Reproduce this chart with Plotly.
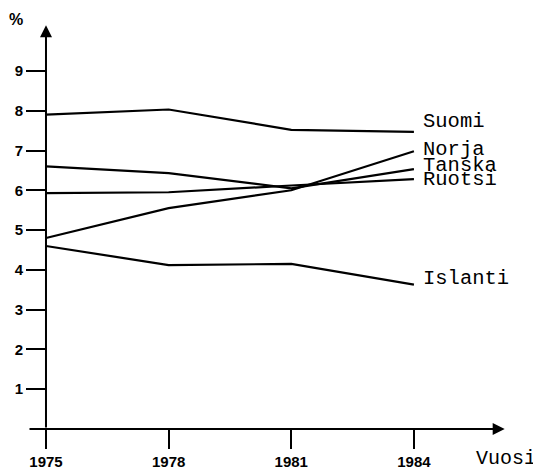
import plotly.graph_objects as go

# Values (percent)
years = [1975, 1978, 1981, 1984]
suomi = [7.9, 8.03, 7.52, 7.47]
norja = [4.8, 5.55, 6.0, 6.98]
tanska = [6.6, 6.43, 6.05, 6.53]
ruotsi = [5.93, 5.95, 6.12, 6.28]
islanti = [4.6, 4.12, 4.15, 3.63]

series = {
    "Suomi": suomi,
    "Norja": norja,
    "Tanska": tanska,
    "Ruotsi": ruotsi,
    "Islanti": islanti,
}
# vertical nudge of end labels, in px
label_shift = {"Suomi": 10, "Norja": 2, "Tanska": 4, "Ruotsi": 0, "Islanti": 6}

y_ticks = [1, 2, 3, 4, 5, 6, 7, 8, 9]

MONO = "Liberation Mono, DejaVu Sans Mono, monospace"
SANS = "Liberation Sans, Arial, sans-serif"

fig = go.Figure()
for name, vals in series.items():
    fig.add_trace(go.Scatter(
        x=years, y=vals, mode="lines",
        line=dict(color="black", width=2.2),
        hoverinfo="skip", showlegend=False,
    ))
    fig.add_annotation(
        x=years[-1], y=vals[-1], text=name, showarrow=False,
        xanchor="left", yanchor="middle", xshift=7, yshift=label_shift[name],
        font=dict(family=MONO, size=20.5, color="black"),
    )

# axis lines with arrow heads
fig.add_annotation(x=1975, y=10.15, ax=1975, ay=0, axref="x", ayref="y",
                   text="", showarrow=True, arrowhead=2, arrowsize=1.2,
                   arrowwidth=2, arrowcolor="black", standoff=0)
fig.add_annotation(x=1986.22, y=0, ax=1974.56, ay=0, axref="x", ayref="y",
                   text="", showarrow=True, arrowhead=2, arrowsize=1.2,
                   arrowwidth=2, arrowcolor="black", standoff=0)

fig.add_annotation(xref="paper", yref="paper", x=-0.043, y=1.026,
                   text="%", showarrow=False, xanchor="left", yanchor="top",
                   font=dict(family=SANS, size=16, color="black", weight="bold"))
fig.add_annotation(xref="paper", yref="paper", x=0.926, y=-0.071,
                   text="Vuosi", showarrow=False, xanchor="left", yanchor="middle",
                   font=dict(family=MONO, size=20, color="black"))

# page body has an 8px margin, so the figure is sized to the remaining window
fig.update_layout(
    width=533, height=461,
    margin=dict(l=20, r=31, t=12, b=40, autoexpand=False),
    plot_bgcolor="white", paper_bgcolor="white",
    xaxis=dict(
        range=[1974.56, 1986.35], tickvals=years, ticks="outside",
        ticklen=19, tickwidth=2, tickcolor="black", automargin=False,
        showgrid=False, zeroline=False, showline=False,
        tickfont=dict(family=SANS, size=15, color="black", weight="bold"),
    ),
    yaxis=dict(
        range=[0, 10.28], tickvals=y_ticks, ticks="outside",
        ticklen=20, tickwidth=2, tickcolor="black", automargin=False,
        anchor="free", position=18 / 482,
        showgrid=False, zeroline=False, showline=False,
        tickfont=dict(family=SANS, size=15, color="black", weight="bold"),
    ),
)

fig.write_html("out.html")
